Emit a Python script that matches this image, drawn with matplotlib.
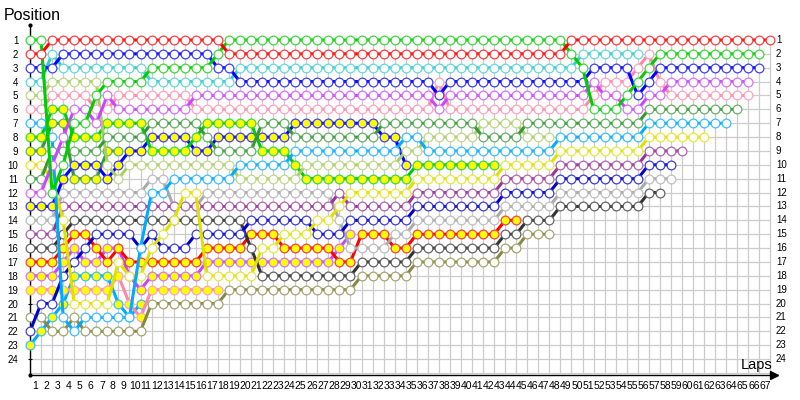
import matplotlib
matplotlib.use("Agg")
import matplotlib.pyplot as plt
from matplotlib.colors import to_rgb

plt.rcParams["font.family"] = ["Liberation Sans", "DejaVu Sans"]

n_laps = 67
n_pos = 24

# position of each driver at the start (index 0) and after every lap
red = [2]*2 + [1]*16 + [2]*31 + [1]*19
green = [1, 1, 12, 10, 7, 7, 5, 4, 4, 4, 4] + [3]*6 + [2] + [1]*31 + [2, 3, 6, 6, 6, 5, 4, 3] + [2]*10
blue = [3]*3 + [2]*14 + [3]*2 + [4]*18 + [5] + [4]*13 + [3]*4 + [5, 4] + [3]*10
cyan = [4, 4, 2] + [3]*8 + [4]*8 + [3]*31 + [2]*6
light_olive = [5, 5] + [4]*5 + [10, 11] + [10]*10 + [11]*6 + [10]*9 + [9]*2 + [8]*5 + [7]*4 + [8]*3
pink = [6, 6] + [5]*4 + [6, 6] + [5]*7 + [6]*22 + [4] + [6]*13 + [5] + [4]*3 + [3, 2, 4] + [5]*8
violet = [12, 12, 10, 8, 6, 6, 7, 5] + [6]*7 + [5]*22 + [6] + [5]*13 + [4] + [5, 5] + [6, 6] + [5, 5] + [4]*8
light_blue = [7, 7, 8, 21, 22, 21, 21, 21, 21, 21, 16, 12, 12] + [11]*6 + [10]*5 + [9]*10 + [8]*2 + [9]*12 + [8]*8 + [7]*8
green_2 = [8, 8, 6, 6, 8, 8, 8, 7, 7, 7, 7, 9, 9, 9, 9, 8, 7, 7, 7, 7, 7, 9, 9, 9, 10] + [11]*10 + [10]*8
dark_green_2 = [9, 9, 7, 7, 11, 11, 11, 9, 9]
yellow = [10, 10, 11, 14, 20, 20, 20, 20, 17, 18, 18, 16, 15, 14, 12, 12] + [18]*5 + [16]*2 + [15]*3 + [14]*2 + [13] + [12]*6 + [11]*8 + [10]*5 + [9]*8 + [8]*6
dark_green = [11, 11, 9, 9, 9, 9, 9, 8, 8, 8, 8] + [7]*5 + [8] + [9]*4 + [7]*3 + [8]*8 + [7]*9 + [8]*4 + [7]*11 + [6]*9
blue_2 = [13, 13, 13, 11, 10, 10, 10, 11, 10, 9, 9, 8, 8, 8, 8, 9, 9] + [8]*7 + [7]*8 + [8]*2 + [10]
gray = [14, 14, 14] + [12]*8 + [11, 11] + [13]*3 + [12]*12 + [14] + [16]*4 + [15]*2 + [14]*8 + [13]*5 + [12]*8 + [11]*3
purple = [15, 15, 15] + [13]*25 + [12] + [13]*6 + [12]*8 + [11]*5 + [10]*8 + [9]*4
dark_gray = [16, 16, 16, 15] + [14]*16 + [16] + [18]*9 + [17]*5 + [16]*8 + [15]*2 + [14]*3 + [13]*8 + [12]*2
red_2 = [17, 17, 17, 16, 15, 15, 16, 17, 16, 17, 17] + [17]*5 + [16]*4 + [15]*3 + [16]*5 + [17]*2 + [15]*3 + [16]*2 + [15]*8 + [14]*2
violet_2 = [18, 18, 18, 17, 16, 17, 17, 16, 16, 18, 19, 18, 18, 18, 18, 18] + [17]*12 + [16, 15]
pink_2 = [19, 19, 19, 19, 19, 19, 19, 19, 18, 20, 21, 19, 19, 19, 19, 19, 19, 19]
olive = [21, 21, 22, 22, 21, 22, 22, 22, 22, 22, 22] + [20]*7 + [19]*12 + [18]*5 + [17]*8 + [16]*2 + [15]*3
navy = [22, 20, 20, 18, 17, 16, 15, 15, 15, 15, 16, 15, 16, 16, 16] + [15]*5 + [14]*6 + [15]*3 + [14]*6 + [13]*8 + [12]*5 + [11]*8 + [10]*3
light_blue_2 = [23, 22, 21, 20, 18, 18, 18, 18, 20, 21, 20]

# (positions, line colour, marker fill)
drivers = [
    (light_blue_2, "#00aaff", "#ffff00"),
    (pink_2, "#ff88aa", "#ffff00"),
    (violet_2, "#cc44ff", "#ffff00"),
    (dark_green_2, "#339933", "#ffff00"),
    (olive, "#888844", "white"),
    (red_2, "#ff0000", "#ffff00"),
    (dark_gray, "#333333", "white"),
    (gray, "#aaaaaa", "white"),
    (navy, "#0000cc", "white"),
    (purple, "#993399", "white"),
    (blue_2, "#0000ff", "#ffff00"),
    (green_2, "#00cc00", "#ffff00"),
    (yellow, "#e0e000", "white"),
    (light_olive, "#aacc66", "white"),
    (light_blue, "#00aaff", "white"),
    (dark_green, "#339933", "white"),
    (cyan, "#33cccc", "white"),
    (pink, "#ff88aa", "white"),
    (violet, "#cc44ff", "white"),
    (blue, "#0000ff", "white"),
    (green, "#00cc00", "white"),
    (red, "#ff0000", "white"),
]


def lighter(c, k=0.25):
    r, g, b = to_rgb(c)
    return (r + (1 - r) * k, g + (1 - g) * k, b + (1 - b) * k)


fig = plt.figure(figsize=(8, 4), dpi=100)
ax = fig.add_axes([30 / 800, 25 / 400, 747 / 800, 350 / 400])
ax.set_xlim(0, 67.6)
ax.set_ylim(25.15, -0.08)

# grid
ax.vlines(range(n_laps + 1), 1, 25, color="#cccccc", lw=0.9, zorder=0)
ax.hlines(range(1, 26), 0, n_laps, color="#cccccc", lw=0.9, zorder=0)

for z, (pos, col, fill) in enumerate(drivers):
    x = list(range(len(pos)))
    ax.plot(x, pos, color=col, lw=2.2, solid_capstyle="round", zorder=2 + 2 * z, clip_on=False)
    ax.plot(x, pos, ls="none", marker="o", ms=6.3, mew=0.9, mec=lighter(col),
            mfc=fill, zorder=3 + 2 * z, clip_on=False)

for s in ["top", "right"]:
    ax.spines[s].set_visible(False)
ax.spines["left"].set_linewidth(1.0)
ax.spines["bottom"].set_linewidth(1.0)
ax.plot([0, 0], [-0.08, 25.15], "k.", ms=4, clip_on=False, zorder=100)
ax.plot([67.3], [25.15], marker=">", color="k", ms=6, clip_on=False, zorder=100)

ax.set_xticks([k - 0.5 for k in range(1, n_laps + 1)])
ax.set_xticklabels([str(k) for k in range(1, n_laps + 1)], fontsize=7.5)
ax.tick_params(axis="x", length=0, pad=4)
ax.set_yticks(range(1, n_pos + 1))
ax.set_yticklabels([str(k) for k in range(1, n_pos + 1)], fontsize=7)
ax.tick_params(axis="y", length=3, direction="inout", pad=7)
for k in range(1, n_pos + 1):
    ax.text(67.5, k, str(k), fontsize=7, ha="left", va="center")

fig.text(4 / 800, 1 - 16 / 400, "Position", fontsize=11.5, ha="left", va="center")
fig.text(772 / 800, 1 - 365 / 400, "Laps", fontsize=10.5, ha="right", va="center")

fig.savefig("out.png", dpi=100)
